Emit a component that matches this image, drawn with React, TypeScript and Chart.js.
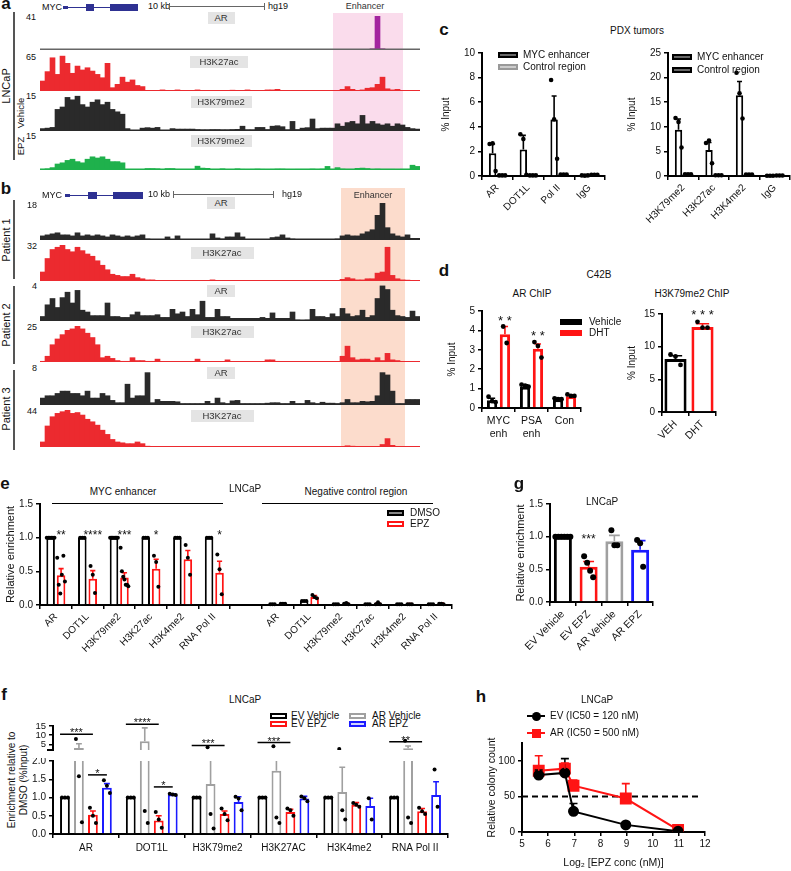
import React, { useEffect, useRef } from 'react';
import { Chart, registerables } from 'chart.js';
Chart.register(...registerables);

const FONT = '"Liberation Sans", Arial, Helvetica, sans-serif';
Chart.defaults.font.family = FONT;
Chart.defaults.font.size = 10;
Chart.defaults.color = '#111';

// ---------------- genome track data (76 bins across the locus) ----------------
const A_AR = [
  0.3, 0.3, 0.3, 0.3, 0.3, 0.3, 0.3, 0.3, 0.3, 0.3,
  0.3, 0.3, 0.3, 0.3, 0.3, 0.3, 0.3, 0.3, 0.3, 0.3,
  0.3, 0.3, 0.3, 0.3, 0.3, 0.3, 0.3, 0.3, 0.3, 0.3,
  0.3, 0.3, 0.3, 0.3, 0.3, 0.3, 0.3, 0.3, 0.3, 0.3,
  0.3, 0.3, 0.3, 0.3, 0.3, 0.3, 0.3, 0.3, 0.3, 0.3,
  0.3, 0.3, 0.3, 0.3, 0.3, 0.3, 0.3, 0.3, 0.3, 0.3,
  0.3, 0.3, 0.3, 0.3, 0.3, 0.3, 1.5, 41, 1.5, 0.3,
  0.3, 0.3, 0.3, 0.3, 0.3, 0.3,
];
const A_K27 = [
  18, 35, 60, 30, 63, 50, 32, 45, 38, 42,
  36, 30, 24, 50, 6, 12, 25, 16, 20, 10,
  8, 1, 0.5, 0.5, 2, 0.5, 0.5, 2, 0.5, 0.5,
  0.5, 2, 0.5, 0.5, 0.5, 0.5, 0.5, 0.5, 1.5, 0.5,
  0.5, 2, 0.5, 0.5, 0.5, 2, 2, 3, 0.5, 0.5,
  0.5, 0.5, 0.5, 0.5, 0.5, 0.5, 0.5, 0.5, 0.5, 0.5,
  3, 8, 3, 0.5, 2, 5, 6, 12, 25, 4,
  2, 3, 1, 0.5, 0.5, 0.5,
];
const A_K79_VEH = [
  1, 1.2, 1.5, 9, 10, 14, 13, 14.5, 11, 10,
  12, 13, 11, 12, 9, 8, 7, 1, 0.2, 0.2,
  1.2, 1.4, 1.2, 1.5, 0.2, 0.2, 1, 0.8, 0.8, 0.8,
  0.8, 0.6, 0.5, 0.5, 0.6, 0.6, 0.5, 0.5, 0.6, 0.7,
  2, 0.5, 0.5, 1.5, 1.5, 0.6, 2, 2.2, 1.8, 0.5,
  4, 0.6, 1.2, 1.4, 5, 1, 1.2, 1.2, 1.2, 3,
  2, 3.5, 4, 3, 6.5, 3, 4, 3, 2.5, 3,
  2, 3, 2.5, 1.5, 1, 0.8,
];
const A_K79_EPZ = [
  0.3, 0.5, 1, 2.5, 3, 4, 4.5, 3.5, 3, 4.5,
  5.5, 5, 5.5, 4.5, 3.5, 3.5, 3, 0.2, 0.1, 0.1,
  0.2, 0.6, 0.6, 0.5, 0.1, 0.6, 0.6, 0.3, 0.1, 0.2,
  0.2, 1.6, 0.8, 0.7, 0.3, 0.3, 0.5, 0.2, 0.2, 0.5,
  0.3, 0.2, 0.3, 0.4, 0.3, 0.2, 0.3, 0.4, 0.4, 0.3,
  0.2, 0.3, 0.3, 0.3, 0.4, 0.3, 0.4, 1.5, 0.3, 1,
  0.4, 0.3, 0.3, 0.7, 0.8, 0.6, 0.3, 0.4, 0.3, 0.3,
  0.3, 0.2, 0.3, 0.3, 2, 1.5,
];
const B1_AR = [
  2, 2.5, 3, 3.5, 2.5, 2.5, 2, 3.5, 2, 2.5,
  2, 2.5, 2, 1.5, 2.5, 2, 1.5, 2, 1.5, 2,
  2.5, 0.5, 0.3, 0.3, 0.3, 1.5, 0.3, 2, 0.3, 0.3,
  0.3, 0.3, 0.3, 0.3, 3, 1, 0.5, 1.5, 1.5, 3.5,
  1.5, 0.3, 0.3, 0.3, 0.3, 0.3, 1.2, 1.5, 2.5, 1,
  0.5, 0.3, 0.3, 0.3, 0.3, 0.3, 0.3, 0.3, 0.3, 0.5,
  2, 2.5, 2, 2, 3, 4, 5, 12, 18, 6,
  3, 2, 1.5, 2.5, 0.8, 0.8,
];
const B1_K27 = [
  8, 20, 28, 30, 32, 28, 26, 30, 27, 24,
  22, 18, 14, 10, 6, 5, 4, 4, 6, 3,
  2, 1, 1, 0.5, 0.5, 0.5, 0.5, 0.5, 0.5, 0.5,
  0.5, 0.5, 0.5, 0.5, 1, 0.5, 0.5, 0.5, 0.5, 0.5,
  0.5, 0.5, 0.5, 0.5, 0.5, 0.5, 0.5, 0.5, 0.5, 0.5,
  0.5, 0.5, 0.5, 0.5, 0.5, 0.5, 0.5, 0.5, 0.5, 0.5,
  1.5, 3, 2, 1, 1, 2, 2, 7, 8, 30,
  5, 2, 1, 0.8, 0.5, 0.3,
];
const B2_AR = [
  0.5, 1.8, 2.5, 1.5, 2.6, 3.2, 2, 3.4, 1.2, 1,
  0.6, 0.6, 0.6, 2, 0.5, 0.5, 0.4, 0.4, 0.7, 1,
  0.6, 0.6, 0.6, 0.7, 0.4, 0.4, 1.3, 0.8, 1, 0.5,
  1.3, 0.7, 2.2, 0.4, 0.4, 1.3, 0.5, 0.5, 0.3, 0.3,
  0.3, 0.3, 0.3, 0.3, 0.4, 0.3, 0.9, 0.3, 0.3, 0.3,
  1, 0.1, 0, 0.1, 1.3, 0.5, 0.5, 0.4, 0.8, 0.5,
  1.4, 0.8, 0.5, 0.6, 1.2, 0.4, 0.6, 2.5, 3.9, 3.5,
  1.2, 0.6, 0.5, 0.4, 1.1, 0.5,
];
const B2_K27 = [
  0.5, 4, 12, 16, 19, 22, 23, 25, 23, 20,
  17, 12, 3, 4, 2.5, 1, 0.5, 0.5, 3, 1,
  1, 0.5, 0.5, 2, 0.3, 0.3, 0.3, 0.3, 0.3, 0.3,
  0.3, 2, 0.3, 0.3, 0.3, 0.3, 0.3, 1.5, 0.3, 0.3,
  0.3, 0.3, 0.3, 0.3, 0.3, 1.5, 1.5, 0.5, 0.3, 0.3,
  0.3, 0.3, 0.3, 0.3, 0.3, 0.3, 0.3, 0.3, 0.3, 0.3,
  4, 11, 3, 1.5, 2, 2, 1, 3, 1, 6,
  1.5, 1, 0.3, 0.3, 0.3, 0.3,
];
const B3_AR = [
  1.5, 2, 2, 2.5, 3, 3, 2.5, 2.5, 2, 3,
  1.5, 1.5, 2.5, 2, 1, 0.5, 0.5, 4.5, 1.5, 2,
  2, 7, 0.5, 1.2, 0.8, 0.8, 0.8, 0.7, 0.3, 0.3,
  0.3, 0.3, 0.3, 0.8, 0.3, 1.5, 0.5, 0.3, 0.9, 1,
  0.3, 0.3, 0.3, 0.3, 0.3, 0.4, 0.5, 0.5, 0.3, 0.3,
  0.8, 0.3, 0.3, 1, 0.5, 0.3, 0.6, 0.4, 0.4, 0.3,
  0.5, 1.2, 0.5, 0.5, 0.8, 0.7, 0.8, 2, 7, 6.5,
  3, 0.3, 0.3, 1.2, 1.2, 1.2,
];
const B3_K27 = [
  6, 25, 36, 40, 42, 44, 40, 41, 38, 33,
  30, 26, 20, 15, 9, 6, 5, 4, 4, 6,
  4, 1, 0.3, 0.3, 0.3, 0.3, 0.3, 0.3, 0.6, 0.3,
  0.3, 0.3, 0.3, 0.3, 0.3, 0.3, 0.3, 0.3, 0.3, 0.3,
  0.3, 0.3, 0.3, 0.3, 0.3, 0.3, 0.3, 0.3, 0.3, 0.3,
  0.3, 0.3, 0.3, 0.3, 0.3, 0.3, 0.3, 0.3, 0.3, 0.3,
  0.3, 1.5, 1, 0.3, 0.3, 0.3, 0.3, 0.3, 3, 10,
  2, 0.3, 0.3, 0.3, 0.3, 0.3,
];
const ENHANCER_A = [58.6, 72.6];
const ENHANCER_B = [60.2, 73.0];

// ---------------- panel c ----------------
const C1_LABELS = ['AR', 'DOT1L', 'Pol II', 'IgG'];
const C1_ENH = [1.85, 2.15, 4.6, 0.04];
const C1_ENH_ERR = [2.6, 3.3, 6.5, null];
const C1_ENH_PTS = [[2.6, 2.65, 0.4], [3.4, 3.0, 0.1], [7.8, 4.6, 1.4], [0.05, 0.03, 0.05]];
const C1_CTL = [0.05, 0.05, 0.12, 0.1];
const C1_CTL_PTS = [[0.05, 0.05, 0.05], [0.05, 0.05, 0.05], [0.12, 0.12, 0.12], [0.1, 0.1, 0.1]];
const C2_LABELS = ['H3K79me2', 'H3K27ac', 'H3K4me2', 'IgG'];
const C2_ENH = [9.4, 5.3, 16.4, 0.05];
const C2_ENH_ERR = [11.6, 6.8, 19.2, null];
const C2_ENH_PTS = [[11.8, 11.0, 5.8], [6.7, 7.2, 2.6], [21, 16.8, 11.7], [0.05, 0.05, 0.05]];
const C2_CTL = [0.35, 0.15, 0.3, 0.1];
const C2_CTL_PTS = [[0.35, 0.35, 0.35], [0.15, 0.15, 0.15], [0.3, 0.3, 0.3], [0.1, 0.1, 0.1]];

// ---------------- panel d ----------------
const D1_LABELS = [['MYC', 'enh'], ['PSA', 'enh'], 'Con'];
const D1_VEH = [0.4, 1.1, 0.45];
const D1_VEH_ERR = [0.5, 1.2, 0.5];
const D1_VEH_PTS = [[0.58, 0.35, 0.3], [1.2, 1.15, 1.1], [0.5, 0.45, 0.45]];
const D1_DHT = [3.8, 3.05, 0.6];
const D1_DHT_ERR = [4.2, 3.3, 0.68];
const D1_DHT_PTS = [[4.2, 3.35], [3.4, 3.2, 2.6], [0.7, 0.62, 0.62]];
const D1_STARS = ['* *', '* *', ''];
const D1_STAR_Y = [4.64, 3.87, 0];
const D2_LABELS = ['VEH', 'DHT'];
const D2_VALS = [8.1, 13.0];
const D2_ERR = [8.6, 13.5];
const D2_PTS = [[8.8, 8.5, 7.2], [13.8, 12.9, 12.9]];
const D2_STARS = ['', '* * *'];

// ---------------- panel e ----------------
const E_LABELS = ['AR', 'DOT1L', 'H3K79me2', 'H3K27ac', 'H3K4me2', 'RNA Pol II', '', 'AR', 'DOT1L', 'H3K79me2', 'H3K27ac', 'H3K4me2', 'RNA Pol II'];
const E_DMSO = [1, 1, 1, 1, 1, 1, null, 0.01, 0.06, 0.01, 0.01, 0.01, 0.01];
const E_DMSO_PTS = [[1, 1, 1, 1, 1, 1], [1, 1, 1], [1, 1, 1, 1, 1, 1, 1], [1, 1, 1], [1, 1, 1], [1, 1, 1], [], [0.01, 0.01, 0.01], [0.06, 0.06, 0.06], [0.01, 0.01, 0.01], [0.01, 0.01, 0.01], [0.01, 0.01, 0.01], [0.01, 0.01, 0.01]];
const E_EPZ = [0.44, 0.39, 0.41, 0.54, 0.68, 0.48, null, 0.02, 0.12, 0.02, 0.02, 0.01, 0.02];
const E_EPZ_ERR = [0.54, 0.51, 0.48, 0.68, 0.81, 0.65, null, 0.03, 0.14, 0.03, 0.03, 0.02, 0.03];
const E_EPZ_PTS = [[0.7, 0.3, 0.17, 0.45, 0.73, 0.35], [0.58, 0.45, 0.18], [0.85, 0.5, 0.42, 0.38, 0.3, 0.3, 0.28], [0.73, 0.64, 0.27], [0.89, 0.7, 0.45], [0.75, 0.53, 0.16], [], [0.02, 0.02, 0.02], [0.15, 0.12, 0.1], [0.02, 0.03, 0.01], [0.01, 0.04, 0.01], [0.01, 0.01, 0.01], [0.02, 0.02, 0.01]];
const E_STARS = ['**', '****', '***', '*', '', '*', '', '', '', '', '', '', ''];

// ---------------- panel g ----------------
const G_LABELS = ['EV Vehicle', 'EV EPZ', 'AR Vehicle', 'AR EPZ'];
const G_VALS = [1.0, 0.54, 0.93, 0.8];
const G_ERR = [null, 0.62, 1.02, 0.94];
const G_PTS = [[1, 1, 1, 1, 1, 1], [0.7, 0.6, 0.48, 0.38], [1.1, 0.87, 0.87], [0.95, 0.9, 0.54]];
const G_STARS = ['', '***', '', ''];

// ---------------- panel f ----------------
const F_LABELS = ['AR', 'DOT1L', 'H3K79me2', 'H3K27AC', 'H3K4me2', 'RNA Pol II'];
const F_EV_VEH = [1, 1, 1, 1, 1, 1];
const F_EV_VEH_PTS = [[1, 1, 1], [1, 1, 1], [1, 1, 1], [1, 1, 1], [1, 1, 1], [1, 1, 1]];
const F_AR_VEH = [3.1, 6.8, 1.37, 1.73, 1.15, 3.0];
const F_AR_VEH_ERR = [5.4, 14, 2.9, 3.3, 1.83, 4.2];
const F_AR_VEH_PTS = [[8, 1.58, 0.32], [19.5, 0.63, 0.3], [3.5, 0.55, 0.15], [4, 0.45, 0.3], [2.6, 0.65, 0.4], [7, 0.45, 0.3]];
const F_EV_EPZ = [0.53, 0.37, 0.55, 0.6, 0.8, 0.62];
const F_EV_EPZ_ERR = [0.63, 0.5, 0.63, 0.68, 0.86, 0.7];
const F_EV_EPZ_PTS = [[0.72, 0.5, 0.3], [0.6, 0.4, 0.17], [0.7, 0.55, 0.38], [0.7, 0.65, 0.5], [0.85, 0.8, 0.75], [0.72, 0.62, 0.55]];
const F_AR_EPZ = [1.27, 1.08, 0.88, 0.97, 0.77, 1.07];
const F_AR_EPZ_ERR = [1.38, 1.1, 1.02, 1.03, 0.98, 1.43];
const F_AR_EPZ_PTS = [[1.47, 1.32, 1.12], [1.1, 1.08, 1.07], [1.02, 0.97, 0.65], [1.03, 0.98, 0.9], [0.98, 0.4], [1.77, 0.75]];
const F_BREAK = 2;
const F_UPPER_TICKS = [5, 10, 15];
const F_UPPER_BRACKETS = [
  { g: 0, a: 0, b: 2, y: 10.5, t: '***' },
  { g: 1, a: 0, b: 2, y: 16, t: '****' },
  { g: 2, a: 0, b: 2, y: 4.5, t: '***' },
  { g: 3, a: 0, b: 2, y: 6, t: '***' },
  { g: 5, a: 0, b: 2, y: 6.5, t: '**' },
];
const F_LOWER_BRACKETS = [
  { g: 0, a: 2, b: 3, y: 1.62, t: '*' },
  { g: 1, a: 2, b: 3, y: 1.29, t: '*' },
];

// ---------------- panel h ----------------
const H_X = [5.64, 6.64, 6.97, 8.97, 10.97];
const H_EV = [80, 83, 29, 10, 1];
const H_EV_ERR = [87, 103, 40, null, null];
const H_AR = [86, 89, 65, 47, 3];
const H_AR_ERR = [107, 97, 73, 68, null];
const H_CUTOFF = 50;
const H_CUTOFF_X = [5, 11.8];
const H_Y_TICKS = [0, 50, 100];

// ---------------- colours ----------------
const RED = '#ff1414';
const GREY = '#a0a0a0';
const BLUE = '#1a1aff';
const TRACK_RED = '#ec2a2f';
const TRACK_BLACK = '#2a2a2a';
const GREEN = '#1fb14c';
const PURPLE = '#a3249f';
const NAVY = '#2e3192';

// ---------------- plugins ----------------
function trackPlugin(shade: number[] | null, shadeColor: string, baseColor: string, baseWidth: number) {
  return {
    id: 'trackDeco',
    beforeDatasetsDraw(chart: any) {
      if (!shade) return;
      const xs = chart.scales.x;
      const n = chart.data.labels.length;
      const ctx = chart.ctx;
      const x0 = xs.left + (xs.width * shade[0]) / n;
      const x1 = xs.left + (xs.width * shade[1]) / n;
      ctx.save();
      ctx.fillStyle = shadeColor;
      ctx.fillRect(x0, 0, x1 - x0, chart.height);
      ctx.restore();
    },
    afterDatasetsDraw(chart: any) {
      const a = chart.chartArea;
      const ctx = chart.ctx;
      ctx.save();
      ctx.strokeStyle = baseColor;
      ctx.lineWidth = baseWidth;
      ctx.beginPath();
      ctx.moveTo(a.left, a.bottom - baseWidth / 2);
      ctx.lineTo(a.right, a.bottom - baseWidth / 2);
      ctx.stroke();
      ctx.restore();
    },
  };
}

// clips the dataset drawing to the chart area (used by the broken-axis panel)
const areaClip = {
  id: 'areaClip',
  beforeDatasetsDraw(chart: any) {
    const a = chart.chartArea;
    chart.ctx.save();
    chart.ctx.beginPath();
    chart.ctx.rect(a.left - 4, a.top, a.right - a.left + 8, a.bottom - a.top);
    chart.ctx.clip();
  },
  afterDatasetsDraw(chart: any) {
    chart.ctx.restore();
  },
};

function marksPlugin(opts: any = {}) {
  return {
    id: 'marks',
    afterDatasetsDraw(chart: any) {
      const ctx = chart.ctx;
      const a = chart.chartArea;
      const ys = chart.scales.y;
      const isLine = chart.config.type === 'line';
      ctx.save();
      if (opts.clip) {
        ctx.beginPath();
        ctx.rect(a.left - 4, a.top, a.right - a.left + 8, a.bottom - a.top);
        ctx.clip();
      }
      chart.data.datasets.forEach((ds: any, di: number) => {
        const meta = chart.getDatasetMeta(di);
        meta.data.forEach((el: any, i: number) => {
          const raw = ds.data[i];
          const v = raw !== null && typeof raw === 'object' ? raw.y : raw;
          const x = el.x;
          if (x == null || isNaN(x)) return;
          const w = el.width || 10;
          const col = Array.isArray(ds.borderColor) ? ds.borderColor[i] : ds.borderColor;
          const err = ds.errs ? ds.errs[i] : null;
          if (err != null && v != null) {
            const y0 = ys.getPixelForValue(v);
            const y1 = ys.getPixelForValue(err);
            const cw = isLine ? 8 : Math.max(5, w * 0.6);
            ctx.strokeStyle = col;
            ctx.lineWidth = ds.errWidth || 1.6;
            ctx.beginPath();
            ctx.moveTo(x, y0);
            ctx.lineTo(x, y1);
            ctx.moveTo(x - cw / 2, y1);
            ctx.lineTo(x + cw / 2, y1);
            ctx.stroke();
          }
          const pts = ds.pts ? ds.pts[i] : null;
          if (pts && pts.length) {
            const n = pts.length;
            const step = n > 1 ? Math.min(opts.maxStep || 4.5, (w * 0.9) / (n - 1)) : 0;
            ctx.fillStyle = '#000';
            pts.forEach((p: number, k: number) => {
              if (p < ys.min || p > ys.max) return;
              const px = x + (k - (n - 1) / 2) * step;
              ctx.beginPath();
              ctx.arc(px, ys.getPixelForValue(p), opts.dotR || 2, 0, Math.PI * 2);
              ctx.fill();
            });
          }
        });
      });
      ctx.restore();
      ctx.save();
      ctx.fillStyle = '#111';
      ctx.font = `${opts.starSize || 12}px ${FONT}`;
      ctx.textAlign = 'center';
      chart.data.datasets.forEach((ds: any, di: number) => {
        if (!ds.stars) return;
        const meta = chart.getDatasetMeta(di);
        meta.data.forEach((el: any, i: number) => {
          const s = ds.stars[i];
          if (!s) return;
          const sy = Array.isArray(ds.starY) ? ds.starY[i] : ds.starY;
          ctx.textBaseline = 'middle';
          ctx.fillText(s, el.x, ys.getPixelForValue(sy) + 3);
        });
      });
      (opts.brackets || []).forEach((b: any) => {
        const ea = chart.getDatasetMeta(b.a).data[b.g];
        const eb = chart.getDatasetMeta(b.b).data[b.g];
        const x1 = ea.x - ea.width / 2;
        const x2 = eb.x;
        const y = ys.getPixelForValue(b.y);
        ctx.strokeStyle = '#000';
        ctx.lineWidth = 1.5;
        ctx.beginPath();
        ctx.moveTo(x1, y);
        ctx.lineTo(x2, y);
        ctx.stroke();
        ctx.textBaseline = 'alphabetic';
        ctx.fillText(b.t, (x1 + x2) / 2, y + 2);
      });
      ctx.restore();
    },
  };
}

// ---------------- generic chart box ----------------
function ChartBox({ area, yW = 0, xH = 0, padT = 0, padR = 0, make }: any) {
  const ref = useRef<HTMLCanvasElement>(null);
  const left = area[0] - yW;
  const top = area[1] - padT;
  const width = area[2] - left + padR;
  const height = area[3] + xH - top;
  useEffect(() => {
    const cfg = make();
    const o = (cfg.options = cfg.options || {});
    o.animation = false;
    o.responsive = false;
    o.maintainAspectRatio = false;
    o.devicePixelRatio = 1;
    o.events = [];
    o.layout = { padding: { top: padT, right: padR, bottom: 0, left: 0 } };
    o.plugins = Object.assign({ legend: { display: false }, tooltip: { enabled: false } }, o.plugins || {});
    Object.keys(o.scales || {}).forEach((id) => {
      const s = o.scales[id];
      const isY = (s.axis || id[0]) === 'y';
      s.afterFit = (sc: any) => {
        if (isY) {
          sc.width = yW;
          sc.paddingTop = 0;
          sc.paddingBottom = 0;
        } else {
          sc.height = xH;
          sc.paddingLeft = 0;
          sc.paddingRight = 0;
        }
      };
    });
    const ch = new Chart(ref.current as HTMLCanvasElement, cfg);
    return () => ch.destroy();
  }, []);
  return <canvas ref={ref} width={width} height={height} style={{ position: 'absolute', left, top, width, height }} />;
}

const tickGrid = { display: true, drawOnChartArea: false, drawTicks: true, tickLength: 4, color: '#000', lineWidth: 1.5 };
const axisBorder = { display: true, color: '#000', width: 2 };

function yAxis(min: number, max: number, step: number, extra: any = {}) {
  const ax: any = {
    min,
    max,
    ticks: { stepSize: step, autoSkip: false, font: { size: extra.tickSize || 10 }, color: '#111', padding: 3 },
    grid: tickGrid,
    border: axisBorder,
  };
  if (extra.fixed) ax.ticks.callback = (v: any) => Number(v).toFixed(extra.fixed);
  if (extra.title) ax.title = { display: true, text: extra.title, font: { size: extra.titleSize || 10 }, color: '#111' };
  if (extra.afterBuildTicks) ax.afterBuildTicks = extra.afterBuildTicks;
  return ax;
}
function xCat(rot: number, extra: any = {}) {
  return {
    type: 'category',
    ticks: { minRotation: rot, maxRotation: rot, autoSkip: false, font: { size: extra.tickSize || 10 }, color: '#111', padding: extra.pad ?? 2 },
    grid: tickGrid,
    border: axisBorder,
    display: extra.display ?? true,
  };
}
function bar(data: any, color: any, extra: any = {}) {
  return Object.assign(
    { data, borderColor: color, backgroundColor: '#fff', borderWidth: 2, borderSkipped: 'start', categoryPercentage: 0.65, barPercentage: 0.85 },
    extra
  );
}

// ---------------- HTML helpers ----------------
function T({ x, y, children, size = 10, bold = false, align = 'center', rot = 0, color = '#111' }: any) {
  const tx = align === 'center' ? '-50%' : align === 'right' ? '-100%' : '0%';
  return (
    <div
      style={{
        position: 'absolute',
        left: x,
        top: y,
        transform: `translate(${tx},-50%) rotate(${rot}deg)`,
        fontSize: size,
        fontWeight: bold ? 700 : 400,
        color,
        whiteSpace: 'pre',
        lineHeight: 1.15,
        textAlign: 'center',
        fontFamily: FONT,
      }}
    >
      {children}
    </div>
  );
}
function R({ x, y, w, h, bg = 'transparent', border }: any) {
  return <div style={{ position: 'absolute', left: x, top: y, width: w, height: h, background: bg, border, boxSizing: 'border-box' }} />;
}
function LabelBox({ x, y, w, text }: any) {
  return (
    <div
      style={{
        position: 'absolute', left: x - w / 2, top: y - 6, width: w, height: 12, background: '#e4e4e4',
        fontSize: 9.5, lineHeight: '12px', textAlign: 'center', color: '#333', fontFamily: FONT,
      }}
    >
      {text}
    </div>
  );
}
function Gene({ y, x0, x1, boxes }: any) {
  return (
    <>
      <R x={x0} y={y - 0.5} w={x1 - x0} h={1} bg={NAVY} />
      {boxes.map((b: number[], i: number) => (
        <R key={i} x={b[0]} y={y - b[2] / 2} w={b[1]} h={b[2]} bg={NAVY} />
      ))}
    </>
  );
}
function ScaleBar({ y, x0, x1 }: any) {
  return (
    <>
      <R x={x0} y={y} w={x1 - x0} h={1} bg="#666" />
      <R x={x0} y={y - 3} w={1} h={7} bg="#666" />
      <R x={x1 - 1} y={y - 3} w={1} h={7} bg="#666" />
    </>
  );
}

function Track({ top, base, padT, data, max, color, shade, shadeColor, baseColor, baseWidth = 1 }: any) {
  return (
    <ChartBox
      area={[40, top + padT, 420, base]}
      padT={padT}
      make={() => ({
        type: 'bar',
        data: {
          labels: data.map((_: any, i: number) => i),
          datasets: [{ data, backgroundColor: color, borderWidth: 0, categoryPercentage: 1, barPercentage: 1 }],
        },
        options: { scales: { x: { display: false }, y: { display: false, min: 0, max } } },
        plugins: [trackPlugin(shade, shadeColor, baseColor || color, baseWidth)],
      })}
    />
  );
}

const SHADE_A = '#fadcec';
const SHADE_B = '#fcdccc';

// upper segment of the broken axis only shows the part of each bar above the break
function fDatasets(upper: boolean) {
  const cut = (arr: number[]) => (upper ? arr.map((v) => (v > F_BREAK ? v : null)) : arr);
  const common = { categoryPercentage: 0.85, barPercentage: 0.7 };
  return [
    bar(cut(F_EV_VEH), '#000', { pts: F_EV_VEH_PTS, ...common }),
    bar(cut(F_AR_VEH), GREY, { errs: F_AR_VEH_ERR, pts: F_AR_VEH_PTS, ...common }),
    bar(cut(F_EV_EPZ), RED, { errs: F_EV_EPZ_ERR, pts: F_EV_EPZ_PTS, ...common }),
    bar(cut(F_AR_EPZ), BLUE, { errs: F_AR_EPZ_ERR, pts: F_AR_EPZ_PTS, ...common }),
  ];
}

export default function App() {
  useEffect(() => {
    document.body.style.margin = '0';
  }, []);

  const tracksA = [
    { data: A_AR, max: 41, color: PURPLE, top: 13, base: 50, padT: 3, baseColor: '#666', baseWidth: 1.5 },
    { data: A_K27, max: 65, color: TRACK_RED, top: 50, base: 91, padT: 5 },
    { data: A_K79_VEH, max: 15, color: TRACK_BLACK, top: 91, base: 131, padT: 4, baseWidth: 1.5 },
    { data: A_K79_EPZ, max: 15, color: GREEN, top: 131, base: 170, padT: 3, baseWidth: 1.5 },
  ];
  const tracksB = [
    { data: B1_AR, max: 18, color: TRACK_BLACK, top: 188, base: 240, padT: 15, baseWidth: 1.5 },
    { data: B1_K27, max: 32, color: TRACK_RED, top: 240, base: 281, padT: 5 },
    { data: B2_AR, max: 4, color: TRACK_BLACK, top: 281, base: 321, padT: 4, baseWidth: 1.5 },
    { data: B2_K27, max: 25, color: TRACK_RED, top: 321, base: 362, padT: 5 },
    { data: B3_AR, max: 8, color: TRACK_BLACK, top: 362, base: 405, padT: 6, baseWidth: 1.5 },
    { data: B3_K27, max: 44, color: TRACK_RED, top: 405, base: 447, padT: 5 },
  ];

  return (
    <div style={{ position: 'absolute', left: 0, top: 0, width: 791, height: 871, background: '#fff', overflow: 'hidden', fontFamily: FONT, color: '#111' }}>
      {/* ---------- panel a ---------- */}
      {tracksA.map((t, i) => (
        <Track key={'a' + i} {...t} shade={ENHANCER_A} shadeColor={SHADE_A} />
      ))}
      <T x={6} y={4} size={17} bold>a</T>
      <T x={42} y={7} size={9} align="left">MYC</T>
      <Gene y={7} x0={63} x1={138} boxes={[[63, 5, 3], [86, 8, 7], [110, 28, 7]]} />
      <T x={148} y={6} size={9} align="left">10 kb</T>
      <ScaleBar y={6} x0={169} x1={265} />
      <T x={268} y={6} size={9} align="left">hg19</T>
      <T x={365} y={6} size={9} color="#333">Enhancer</T>
      <T x={36} y={17} size={9} align="right">41</T>
      <T x={36} y={57} size={9} align="right">65</T>
      <T x={36} y={96} size={9} align="right">15</T>
      <T x={36} y={136} size={9} align="right">15</T>
      <LabelBox x={221} y={18} w={27} text="AR" />
      <LabelBox x={219} y={62} w={58} text="H3K27ac" />
      <LabelBox x={221} y={102} w={61} text="H3K79me2" />
      <LabelBox x={221} y={141} w={61} text="H3K79me2" />
      <R x={13} y={12} w={1.5} h={148} bg="#555" />
      <T x={6} y={86} size={11} rot={-90}>LNCaP</T>
      <T x={21} y={113} size={9.5} rot={-90}>Vehicle</T>
      <T x={21} y={146} size={9.5} rot={-90}>EPZ</T>

      {/* ---------- panel b ---------- */}
      {tracksB.map((t, i) => (
        <Track key={'b' + i} {...t} shade={ENHANCER_B} shadeColor={SHADE_B} />
      ))}
      <T x={6} y={189} size={17} bold>b</T>
      <T x={42} y={195} size={9} align="left">MYC</T>
      <Gene y={195} x0={65} x1={143} boxes={[[65, 5, 3], [88, 9, 7], [113, 30, 7]]} />
      <T x={148} y={194} size={9} align="left">10 kb</T>
      <ScaleBar y={194} x0={173} x1={274} />
      <T x={282} y={194} size={9} align="left">hg19</T>
      <T x={373} y={195} size={9} color="#333">Enhancer</T>
      <T x={37} y={205} size={9} align="right">18</T>
      <T x={37} y={246} size={9} align="right">32</T>
      <T x={37} y={286} size={9} align="right">4</T>
      <T x={37} y={327} size={9} align="right">25</T>
      <T x={37} y={368} size={9} align="right">8</T>
      <T x={37} y={411} size={9} align="right">44</T>
      <LabelBox x={221} y={203} w={28} text="AR" />
      <LabelBox x={222} y={253} w={63} text="H3K27ac" />
      <LabelBox x={221} y={291} w={28} text="AR" />
      <LabelBox x={222} y={332} w={63} text="H3K27ac" />
      <LabelBox x={221} y={373} w={28} text="AR" />
      <LabelBox x={222} y={416} w={63} text="H3K27ac" />
      <R x={13} y={200} w={1.5} h={79} bg="#555" />
      <R x={13} y={286} w={1.5} h={78} bg="#555" />
      <R x={13} y={370} w={1.5} h={80} bg="#555" />
      <T x={6} y={240} size={11} rot={-90}>Patient 1</T>
      <T x={6} y={325} size={11} rot={-90}>Patient 2</T>
      <T x={6} y={409} size={11} rot={-90}>Patient 3</T>

      {/* ---------- panel c ---------- */}
      <T x={444} y={30} size={17} bold>c</T>
      <T x={637} y={31} size={10}>PDX tumors</T>
      <ChartBox
        area={[482, 53, 605, 176]}
        yW={46}
        xH={50}
        padT={8}
        padR={4}
        make={() => ({
          type: 'bar',
          data: {
            labels: C1_LABELS,
            datasets: [
              bar(C1_ENH, '#000', { errs: C1_ENH_ERR, pts: C1_ENH_PTS, categoryPercentage: 0.62, barPercentage: 0.78 }),
              bar(C1_CTL, '#8a8a8a', { pts: C1_CTL_PTS, categoryPercentage: 0.62, barPercentage: 0.78 }),
            ],
          },
          options: { scales: { x: xCat(45), y: yAxis(0, 10, 2, { title: '% Input' }) } },
          plugins: [marksPlugin({ dotR: 2.3, maxStep: 3 })],
        })}
      />
      <R x={498} y={52} w={20} h={6} bg="#666" border="2px solid #000" />
      <T x={523} y={55} size={10} align="left">MYC enhancer</T>
      <R x={498} y={64} w={20} h={6} bg="#ccc" border="2px solid #999" />
      <T x={523} y={67} size={10} align="left">Control region</T>
      <ChartBox
        area={[668, 53, 790, 176]}
        yW={46}
        xH={50}
        padT={8}
        padR={1}
        make={() => ({
          type: 'bar',
          data: {
            labels: C2_LABELS,
            datasets: [
              bar(C2_ENH, '#000', { errs: C2_ENH_ERR, pts: C2_ENH_PTS, categoryPercentage: 0.62, barPercentage: 0.78 }),
              bar(C2_CTL, '#000', { pts: C2_CTL_PTS, categoryPercentage: 0.62, barPercentage: 0.78 }),
            ],
          },
          options: { scales: { x: xCat(45), y: yAxis(0, 25, 5, { title: '% Input' }) } },
          plugins: [marksPlugin({ dotR: 2.3, maxStep: 3 })],
        })}
      />
      <R x={672} y={54} w={20} h={6} bg="#666" border="2px solid #000" />
      <T x={697} y={57} size={10} align="left">MYC enhancer</T>
      <R x={672} y={67} w={20} h={6} bg="#666" border="2px solid #000" />
      <T x={697} y={70} size={10} align="left">Control region</T>

      {/* ---------- panel d ---------- */}
      <T x={444} y={271} size={17} bold>d</T>
      <T x={599} y={275} size={10}>C42B</T>
      <T x={532} y={294} size={10}>AR ChIP</T>
      <T x={692} y={294} size={10}>H3K79me2 ChIP</T>
      <ChartBox
        area={[482, 311, 581, 408]}
        yW={40}
        xH={42}
        padT={6}
        padR={4}
        make={() => ({
          type: 'bar',
          data: {
            labels: D1_LABELS,
            datasets: [
              bar(D1_VEH, '#000', { errs: D1_VEH_ERR, pts: D1_VEH_PTS, borderWidth: 3, categoryPercentage: 0.78, barPercentage: 0.8 }),
              bar(D1_DHT, RED, { errs: D1_DHT_ERR, pts: D1_DHT_PTS, borderWidth: 3, categoryPercentage: 0.78, barPercentage: 0.8, stars: D1_STARS, starY: D1_STAR_Y }),
            ],
          },
          options: { scales: { x: xCat(0, { tickSize: 10.5, pad: 3 }), y: yAxis(0, 5, 1, { title: '% Input' }) } },
          plugins: [marksPlugin({ dotR: 2.4, maxStep: 3.5, starSize: 13 })],
        })}
      />
      <R x={560} y={319} w={22} h={6} bg="#000" />
      <T x={589} y={322} size={10} align="left">Vehicle</T>
      <R x={560} y={330} w={22} h={6} bg={RED} />
      <T x={589} y={333} size={10} align="left">DHT</T>
      <ChartBox
        area={[662, 314, 716, 412]}
        yW={40}
        xH={40}
        padT={6}
        padR={4}
        make={() => ({
          type: 'bar',
          data: {
            labels: D2_LABELS,
            datasets: [
              bar(D2_VALS, ['#000', RED], { errs: D2_ERR, pts: D2_PTS, borderWidth: 3, categoryPercentage: 1, barPercentage: 0.82, stars: D2_STARS, starY: 15.2 }),
            ],
          },
          options: { scales: { x: xCat(45, { tickSize: 10.5 }), y: yAxis(0, 15, 5, { title: '% Input' }) } },
          plugins: [marksPlugin({ dotR: 2.4, maxStep: 5, starSize: 13 })],
        })}
      />

      {/* ---------- panel e ---------- */}
      <T x={5} y={484} size={17} bold>e</T>
      <T x={245} y={489} size={10}>LNCaP</T>
      <T x={123} y={492} size={10}>MYC enhancer</T>
      <T x={356} y={492} size={10}>Negative control region</T>
      <R x={52} y={502.5} w={171} h={1.5} bg="#000" />
      <R x={262} y={502.5} w={171} h={1.5} bg="#000" />
      <ChartBox
        area={[40, 504, 452, 605]}
        yW={40}
        xH={50}
        padT={6}
        padR={4}
        make={() => ({
          type: 'bar',
          data: {
            labels: E_LABELS,
            datasets: [
              bar(E_DMSO, '#000', { pts: E_DMSO_PTS, categoryPercentage: 0.66, barPercentage: 0.82 }),
              bar(E_EPZ, RED, { errs: E_EPZ_ERR, pts: E_EPZ_PTS, categoryPercentage: 0.66, barPercentage: 0.82, stars: E_STARS, starY: 1.08 }),
            ],
          },
          options: { scales: { x: xCat(45), y: yAxis(0, 1.5, 0.5, { title: 'Relative enrichment', titleSize: 11, fixed: 1 }) } },
          plugins: [marksPlugin({ dotR: 2, maxStep: 2.2, starSize: 12 })],
        })}
      />
      <R x={387} y={510} w={17} h={6} bg="#888" border="2px solid #000" />
      <T x={410} y={513} size={10} align="left">DMSO</T>
      <R x={387} y={521} w={17} h={6} bg="#fff" border={`2px solid ${RED}`} />
      <T x={410} y={524} size={10} align="left">EPZ</T>

      {/* ---------- panel g ---------- */}
      <T x={519} y={484} size={17} bold>g</T>
      <T x={602} y={502} size={10}>LNCaP</T>
      <ChartBox
        area={[550, 504, 653, 602]}
        yW={40}
        xH={58}
        padT={6}
        padR={4}
        make={() => ({
          type: 'bar',
          data: {
            labels: G_LABELS,
            datasets: [
              bar(G_VALS, ['#000', RED, GREY, BLUE], { errs: G_ERR, pts: G_PTS, borderWidth: 3, categoryPercentage: 1, barPercentage: 0.7, stars: G_STARS, starY: 0.995 }),
            ],
          },
          options: { scales: { x: xCat(45, { tickSize: 10.5 }), y: yAxis(0, 1.5, 0.5, { title: 'Relative enrichment', titleSize: 11, fixed: 1 }) } },
          plugins: [marksPlugin({ dotR: 3, maxStep: 3, starSize: 12 })],
        })}
      />

      {/* ---------- panel f ---------- */}
      <T x={4} y={695} size={17} bold>f</T>
      <T x={245} y={700} size={10}>LNCaP</T>
      <R x={270} y={713} w={17} h={6} bg="#fff" border="2px solid #000" />
      <T x={291} y={716} size={10} align="left">EV Vehicle</T>
      <R x={270} y={721} w={17} h={6} bg="#fff" border={`2px solid ${RED}`} />
      <T x={291} y={724} size={10} align="left">EV EPZ</T>
      <R x={349} y={713} w={17} h={6} bg="#fff" border={`2px solid ${GREY}`} />
      <T x={372} y={716} size={10} align="left">AR Vehicle</T>
      <R x={349} y={721} w={17} h={6} bg="#cfd4ff" border={`2px solid ${BLUE}`} />
      <T x={372} y={724} size={10} align="left">AR EPZ</T>
      <T x={17} y={780} size={10} rot={-90}>{'Enrichment relative to\nDMSO (%Input)'}</T>
      <ChartBox
        area={[53, 726, 448, 750]}
        yW={53}
        xH={0}
        padT={14}
        padR={4}
        make={() => ({
          type: 'bar',
          data: { labels: F_LABELS, datasets: fDatasets(true) },
          options: {
            scales: {
              x: xCat(0, { display: false }),
              y: yAxis(F_BREAK, 15, 5, { tickSize: 9.5, afterBuildTicks: (s: any) => { s.ticks = F_UPPER_TICKS.map((v) => ({ value: v })); } }),
            },
          },
          plugins: [areaClip, marksPlugin({ dotR: 2, maxStep: 3, clip: true, brackets: F_UPPER_BRACKETS, starSize: 11 })],
        })}
      />
      <R x={47} y={749} w={7} h={1.5} bg="#000" />
      <ChartBox
        area={[53, 761, 448, 834]}
        yW={53}
        xH={20}
        padT={3}
        padR={4}
        make={() => ({
          type: 'bar',
          data: { labels: F_LABELS, datasets: fDatasets(false) },
          options: { scales: { x: xCat(0, { pad: 4 }), y: yAxis(0, F_BREAK, 0.5, { fixed: 1 }) } },
          plugins: [areaClip, marksPlugin({ dotR: 2, maxStep: 3, clip: true, brackets: F_LOWER_BRACKETS, starSize: 11 })],
        })}
      />

      {/* ---------- panel h ---------- */}
      <T x={481} y={697} size={17} bold>h</T>
      <T x={597} y={700} size={10}>LNCaP</T>
      <R x={527} y={715} w={18} h={2} bg="#000" />
      <div style={{ position: 'absolute', left: 532, top: 712, width: 9, height: 9, borderRadius: '50%', background: '#000' }} />
      <T x={550} y={716} size={10} align="left">EV (IC50 = 120 nM)</T>
      <R x={527} y={732} w={18} h={2} bg={RED} />
      <R x={532} y={728.5} w={9} h={9} bg={RED} />
      <T x={550} y={733} size={10} align="left">AR (IC50 = 500 nM)</T>
      <ChartBox
        area={[522, 738, 708, 832]}
        yW={40}
        xH={41}
        padT={4}
        padR={6}
        make={() => ({
          type: 'line',
          data: {
            datasets: [
              {
                data: H_X.map((x, i) => ({ x, y: H_EV[i] })),
                errs: H_EV_ERR,
                borderColor: '#000',
                backgroundColor: '#000',
                borderWidth: 2,
                pointRadius: 4.5,
                pointStyle: 'circle',
              },
              {
                data: H_X.map((x, i) => ({ x, y: H_AR[i] })),
                errs: H_AR_ERR,
                borderColor: RED,
                backgroundColor: RED,
                borderWidth: 2,
                pointRadius: 7,
                pointStyle: 'rect',
              },
              {
                data: H_CUTOFF_X.map((x) => ({ x, y: H_CUTOFF })),
                borderColor: '#000',
                borderWidth: 2,
                borderDash: [6, 4],
                pointRadius: 0,
              },
            ],
          },
          options: {
            scales: {
              x: {
                type: 'linear',
                min: 5,
                max: 12,
                ticks: { stepSize: 1, font: { size: 10 }, color: '#111', padding: 2 },
                grid: tickGrid,
                border: axisBorder,
                title: { display: true, text: 'Log\u2082 [EPZ conc (nM)]', font: { size: 10.5 }, color: '#111' },
              },
              y: yAxis(0, 125, 50, {
                title: 'Relative colony count',
                titleSize: 10.5,
                afterBuildTicks: (s: any) => { s.ticks = H_Y_TICKS.map((v) => ({ value: v })); },
              }),
            },
          },
          plugins: [marksPlugin({})],
        })}
      />
    </div>
  );
}
